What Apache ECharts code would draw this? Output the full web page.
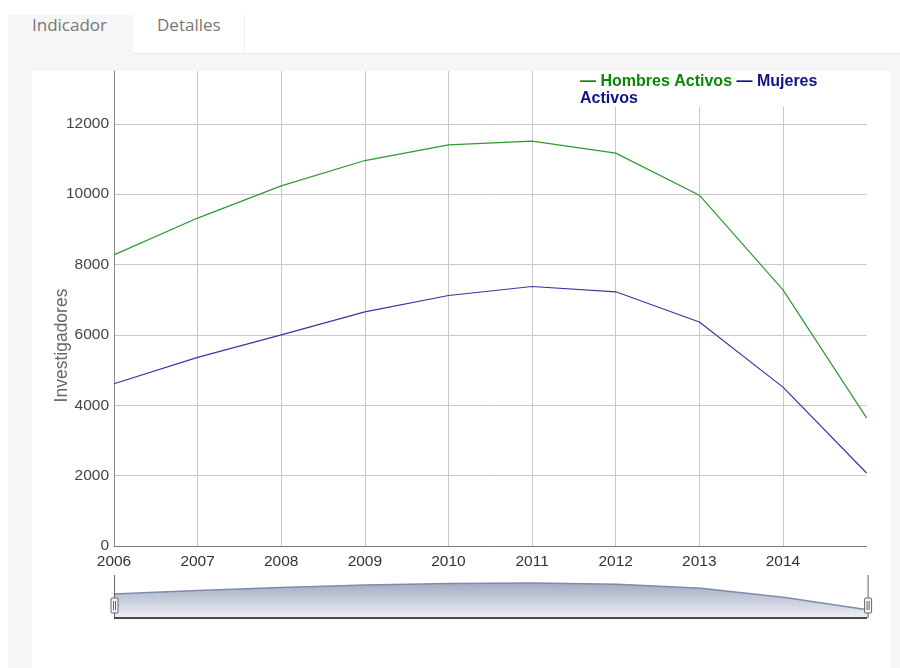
<!DOCTYPE html>
<html>
<head>
<meta charset="utf-8">
<script src="https://cdn.jsdelivr.net/npm/echarts@6/dist/echarts.min.js"></script>
<style>
  html, body { margin: 0; padding: 0; background: #fff; width: 900px; height: 668px; overflow: hidden; }
  .abs { position: absolute; }
  #panel { left: 8px; top: 53px; width: 892px; height: 615px; background: #f6f6f6; border-top: 1px solid #e8e8e8; }
  #tab1 { left: 8px; top: 15px; width: 125px; height: 40px; background: #f6f6f6; }
  #tab2 { left: 133px; top: 15px; width: 111px; height: 38px; background: #fff; border-right: 1px solid #eeeeee; }
  .tabtxt { font-family: "Open Sans", sans-serif; font-size: 17px; color: #777; line-height: 20px; top: 15px; }
  #white { left: 32px; top: 71px; width: 858px; height: 597px; background: #fff; }
  #chart { left: 0; top: 0; width: 900px; height: 668px; }
</style>
</head>
<body>
<div id="panel" class="abs"></div>
<div id="tab1" class="abs"></div>
<div id="tab2" class="abs"></div>
<div class="abs tabtxt" style="left:32px">Indicador</div>
<div class="abs tabtxt" style="left:157px">Detalles</div>
<div id="white" class="abs"></div>
<div id="chart" class="abs"></div>
<script>
const years = ['2006','2007','2008','2009','2010','2011','2012','2013','2014','2015'];
const hombresActivos = [8275, 9320, 10235, 10955, 11400, 11505, 11165, 9970, 7280, 3640];
const mujeresActivas = [4610, 5360, 6000, 6655, 7120, 7375, 7225, 6365, 4515, 2075];
const seriesNames = ['Hombres Activos', 'Mujeres Activos'];
const yTitle = 'Investigadores';

const chart = echarts.init(document.getElementById('chart'), null, { renderer: 'canvas' });
const font = '"Liberation Sans", Arial, sans-serif';
const shadowGrad = new echarts.graphic.LinearGradient(0, 0, 0, 1, [
  { offset: 0, color: '#eef0f5' },
  { offset: 1, color: '#a3acc2' }
]);
const handleStyle = { color: '#f4f4f4', borderColor: '#666', borderWidth: 1 };
// handle icon is drawn inside a vertically flipped group, so it is defined upside down
const handleIcon = 'path://M5 0L5 5M2.5 5L7.5 5Q8.5 5 8.5 6L8.5 19Q8.5 20 7.5 20L2.5 20Q1.5 20 1.5 19L1.5 6Q1.5 5 2.5 5ZM4 8L4 17M6 8L6 17M5 20L5 43';

chart.setOption({
  backgroundColor: 'transparent',
  animation: false,
  textStyle: { fontFamily: font },
  legend: { show: false, data: seriesNames },
  grid: { left: 114, right: 33.4, top: 71, bottom: 122, containLabel: false },
  xAxis: {
    type: 'category',
    data: years,
    boundaryGap: false,
    axisLine: { show: true, lineStyle: { color: '#7a7a7a', width: 1 } },
    axisTick: { show: false },
    axisLabel: {
      interval: 0, color: '#333', fontSize: 15.5, fontFamily: font, margin: 8,
      formatter: (v, i) => (i === years.length - 1 ? '' : v)
    },
    splitLine: { show: true, interval: 0, showMaxLine: false, lineStyle: { color: '#c8c8c8', width: 1 } }
  },
  yAxis: {
    type: 'value',
    min: 0,
    max: 13500,
    interval: 2000,
    name: yTitle,
    nameLocation: 'middle',
    nameGap: 43,
    nameMoveOverlap: false,
    nameTextStyle: { color: '#666', fontSize: 17.5, fontFamily: font, padding: [0, 74, 0, 0] },
    axisLine: { show: true, lineStyle: { color: '#8a8a8a', width: 1 } },
    axisTick: { show: false },
    axisLabel: { color: '#444', fontSize: 15.5, fontFamily: font, margin: 5, showMaxLabel: false, formatter: v => String(v) },
    splitLine: { show: true, showMaxLine: false, lineStyle: { color: '#c8c8c8', width: 1 } }
  },
  dataZoom: [{
    type: 'slider',
    xAxisIndex: 0,
    left: 111, right: 33.4, top: 575, height: 43,
    start: 0, end: 100,
    backgroundColor: 'transparent',
    borderColor: 'transparent',
    fillerColor: 'rgba(0,0,0,0)',
    showDetail: false,
    brushSelect: false,
    moveHandleSize: 0,
    moveHandleStyle: { opacity: 0 },
    handleIcon: handleIcon,
    handleSize: '100%',
    handleStyle: handleStyle,
    emphasis: { handleStyle: handleStyle, moveHandleStyle: { opacity: 0 } },
    dataBackground: {
      lineStyle: { color: '#7d8bad', width: 1.5, opacity: 1 },
      areaStyle: { color: shadowGrad, opacity: 1 }
    },
    selectedDataBackground: {
      lineStyle: { color: '#7d8bad', width: 1.5, opacity: 1 },
      areaStyle: { color: shadowGrad, opacity: 1 }
    }
  }],
  graphic: [
    { type: 'line', silent: true, z: 100, shape: { x1: 114, y1: 618, x2: 867, y2: 618 }, style: { stroke: '#4a4a4a', lineWidth: 2 } },
    { type: 'rect', silent: true, z: 1, shape: { x: 575, y: 71, width: 296, height: 36 }, style: { fill: '#fff' } },
    {
      type: 'text', silent: true, z: 2, left: 580, top: 74,
      style: {
        text: '{g|— ' + seriesNames[0] + '} {b|— Mujeres}\n{b|Activos}',
        font: 'bold 16px ' + font,
        rich: {
          g: { fill: '#0a870a', fontWeight: 'bold', fontSize: 16, fontFamily: font, lineHeight: 17 },
          b: { fill: '#12128a', fontWeight: 'bold', fontSize: 16, fontFamily: font, lineHeight: 17 }
        }
      }
    }
  ],
  series: [
    { name: seriesNames[0], type: 'line', data: hombresActivos, symbol: 'none', lineStyle: { color: '#2d9a2d', width: 1.2 }, itemStyle: { color: '#2d9a2d' } },
    { name: seriesNames[1], type: 'line', data: mujeresActivas, symbol: 'none', lineStyle: { color: '#3636a3', width: 1.2 }, itemStyle: { color: '#3636a3' } }
  ]
});
</script>
</body>
</html>
